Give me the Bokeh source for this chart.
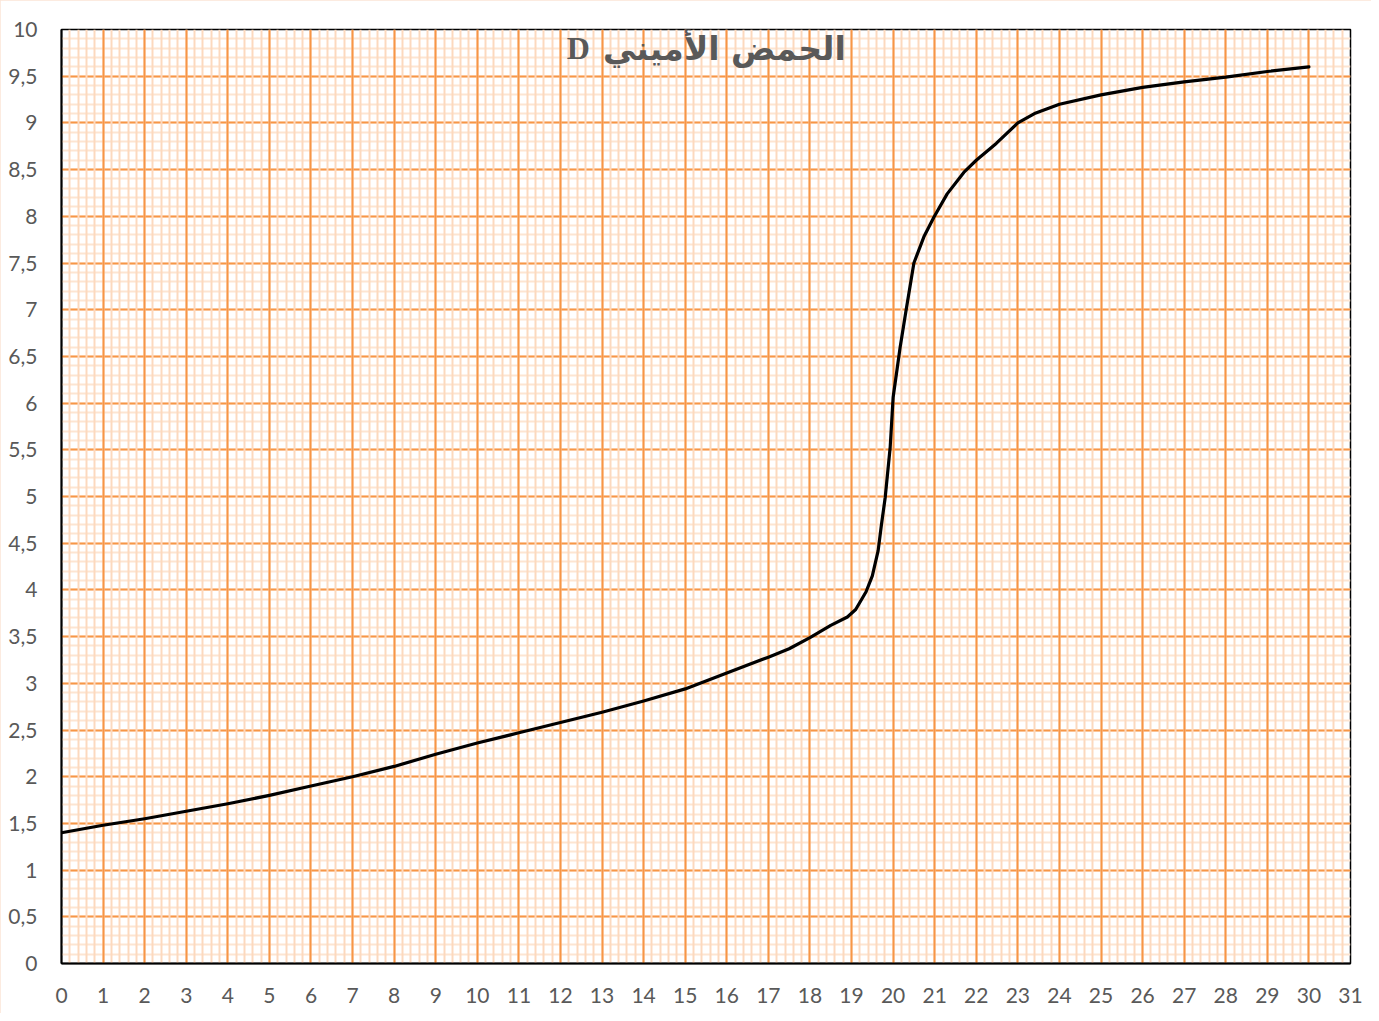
from bokeh.plotting import figure
from bokeh.models import (Range1d, SingleIntervalTicker, Grid, CustomJSTickFormatter, Label)
from bokeh.embed import file_html
from bokeh.resources import INLINE

# ---- data ----
volume = [0, 1, 2, 3, 4, 5, 6, 7, 8, 9, 10, 11, 12, 13, 14, 15, 16, 17, 17.5, 18,
          18.5, 18.9, 19.1, 19.35, 19.5, 19.64, 19.72, 19.81, 19.93, 20.0, 20.17, 20.31,
          20.5, 20.74, 20.98, 21.3, 21.7, 22.0, 22.48, 23, 23.4, 24, 25, 26, 27, 28, 29, 30]
ph = [1.40, 1.48, 1.55, 1.63, 1.71, 1.80, 1.90, 2.00, 2.11, 2.24, 2.36, 2.47, 2.58,
      2.69, 2.81, 2.94, 3.11, 3.28, 3.37, 3.49, 3.62, 3.71, 3.79, 3.98, 4.15, 4.42,
      4.70, 4.99, 5.53, 6.06, 6.60, 6.99, 7.50, 7.78, 7.99, 8.24, 8.47, 8.60, 8.78,
      9.00, 9.10, 9.20, 9.30, 9.38, 9.44, 9.49, 9.55, 9.60]
title_arabic = "الحمض الأميني"
title_letter = "D"

MAJOR = "#F79646"
MINOR_V = "#FCD9BE"
MINOR_H = "#FDE5D2"
TXT = "#595959"

p = figure(width=1371, height=1013, output_backend="svg", toolbar_location=None,
           x_range=Range1d(0, 31), y_range=Range1d(0, 10),
           min_border_left=61, min_border_right=21, min_border_top=29, min_border_bottom=50)
p.frame_width = 1289
p.frame_height = 934

xt = SingleIntervalTicker(interval=1, num_minor_ticks=5)
yt = SingleIntervalTicker(interval=0.5, num_minor_ticks=5)
p.xaxis.ticker = xt
p.yaxis.ticker = yt

# remove default grids and add in desired order (horizontal first, vertical on top)
p.xgrid.visible = False
p.ygrid.visible = False
hg = Grid(dimension=1, ticker=yt, grid_line_color=MAJOR, grid_line_width=2,
          minor_grid_line_color=MINOR_H, minor_grid_line_width=2)
vg = Grid(dimension=0, ticker=xt, grid_line_color=MAJOR, grid_line_width=2,
          minor_grid_line_color=MINOR_V, minor_grid_line_width=2)
p.add_layout(hg, "center")
p.add_layout(vg, "center")

p.outline_line_color = "black"
p.outline_line_width = 1.5
p.outline_line_alpha = 1

for ax in (p.xaxis[0], p.yaxis[0]):
    ax.axis_line_color = "black"
    ax.axis_line_width = 2
    ax.major_tick_line_color = None
    ax.minor_tick_line_color = None
    ax.major_label_text_color = TXT
    ax.major_label_text_font = "Lato"
    ax.major_label_text_font_size = "21px"
p.xaxis.major_label_standoff = 18
p.yaxis.major_label_standoff = 18
p.yaxis.formatter = CustomJSTickFormatter(code="return tick.toString().replace('.', ',');")

p.line(volume, ph, line_color="black", line_width=3.2, line_join="round", line_cap="round")

p.add_layout(Label(x=12.43, y=9.8, text=title_letter, text_font="Liberation Serif",
                   text_font_style="bold", text_font_size="32px", text_color=TXT,
                   text_align="center", text_baseline="middle"))
p.add_layout(Label(x=18.86, y=9.8, text=title_arabic, text_font="DejaVu Sans",
                   text_font_style="bold", text_font_size="33px", text_color=TXT,
                   text_align="right", text_baseline="middle"))

p.styles = {"outline": "2px solid #FBE5D6", "outline-offset": "-2px"}

open("out.html", "w").write(file_html(p, INLINE))
